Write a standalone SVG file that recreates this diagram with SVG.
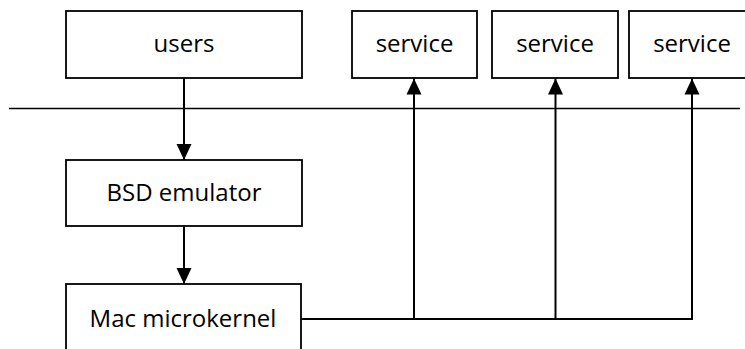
<svg xmlns="http://www.w3.org/2000/svg" width="745" height="349" viewBox="0 0 745 349">
  <style>
    .box { fill: #ffffff; stroke: #000000; stroke-width: 1.8; }
    .lbl { font-family: "Open Sans", "Liberation Sans", sans-serif; font-size: 24px; fill: #000000; text-anchor: middle; }
    .conn { fill: none; stroke: #000000; stroke-width: 2; }
    .sep { fill: none; stroke: #000000; stroke-width: 1.5; }
  </style>
  <defs>
    <marker id="arrow" markerUnits="userSpaceOnUse" markerWidth="16" markerHeight="16" viewBox="0 0 16 16" refX="16" refY="8" orient="auto">
      <path d="M0,0.5 L16,8 L0,15.5 Z" fill="#000000"/>
    </marker>
  </defs>

  <line id="separator" class="sep" x1="9" y1="108.5" x2="740" y2="108.5"/>

  <g id="users">
    <rect class="box" x="66" y="11" width="236" height="67"/>
    <text class="lbl" x="184" y="52">users</text>
  </g>
  <g id="service1">
    <rect class="box" x="352" y="11" width="125" height="67"/>
    <text class="lbl" x="414.5" y="52">service</text>
  </g>
  <g id="service2">
    <rect class="box" x="492" y="11" width="126" height="67"/>
    <text class="lbl" x="555" y="52">service</text>
  </g>
  <g id="service3">
    <rect class="box" x="629" y="11" width="126" height="67"/>
    <text class="lbl" x="692" y="52">service</text>
  </g>
  <g id="bsd">
    <rect class="box" x="66" y="160" width="236" height="66"/>
    <text class="lbl" x="184" y="201">BSD emulator</text>
  </g>
  <g id="mac">
    <rect class="box" x="66" y="284" width="235" height="70"/>
    <text class="lbl" x="183" y="326.5">Mac microkernel</text>
  </g>

  <g id="connectors">
    <line class="conn" x1="184" y1="78" x2="184" y2="160" marker-end="url(#arrow)"/>
    <line class="conn" x1="184" y1="226" x2="184" y2="284" marker-end="url(#arrow)"/>
    <line class="conn" x1="301" y1="319" x2="692" y2="319" stroke-width="2.5"/>
    <line class="conn" x1="414" y1="320" x2="414" y2="78.5" marker-end="url(#arrow)"/>
    <line class="conn" x1="555.5" y1="320" x2="555.5" y2="78.5" marker-end="url(#arrow)"/>
    <line class="conn" x1="692" y1="320" x2="692" y2="78.5" marker-end="url(#arrow)"/>
  </g>
</svg>
